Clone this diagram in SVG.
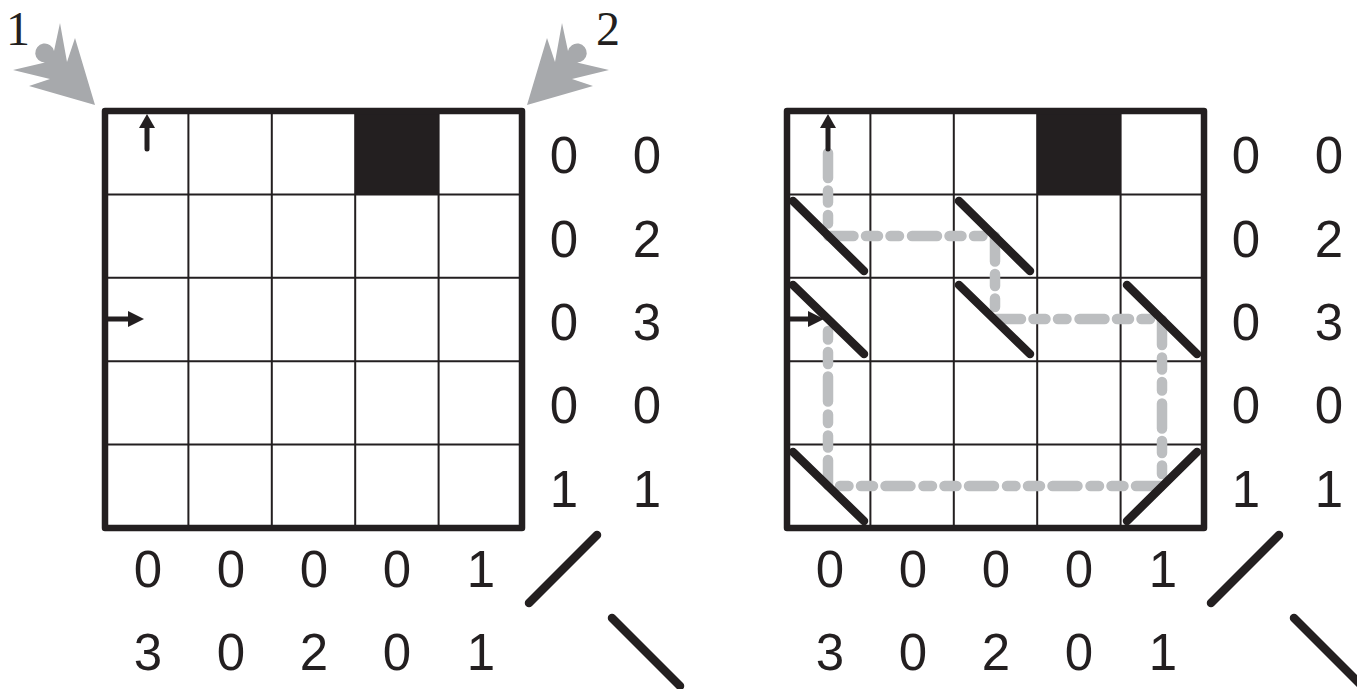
<svg xmlns="http://www.w3.org/2000/svg" xmlns:xlink="http://www.w3.org/1999/xlink" width="1357" height="689" viewBox="0 0 1357 689">
<style>
.thin{stroke:#231f20;stroke-width:2;fill:none}
.border{stroke:#231f20;stroke-width:6.5;fill:none;stroke-linejoin:round}
.blk{fill:#231f20}
.num{font-family:"Liberation Sans",Arial,sans-serif;font-size:51px;fill:#231f20;text-anchor:middle}
.lbl{font-family:"Liberation Serif","Times New Roman",serif;font-size:48px;fill:#231f20;text-anchor:middle}
.mirror{stroke:#231f20;stroke-width:8.5;stroke-linecap:round;fill:none}
.shaft{stroke:#231f20;stroke-width:5;stroke-linecap:round;fill:none}
.beam{stroke:#bcbec0;stroke-width:10.5;stroke-linecap:round;stroke-linejoin:round;fill:none;stroke-dasharray:25 12.5 12 12.5 8.5 13}
.burst{fill:#a7a9ac}
</style>
<defs>
<path id="burstShape" class="burst" d="M95,105 L29,86 L50,79 L13,70 L45,62.5 A9.5,9.5 0 1 1 54,51 L60,23 L67,62 L75,38 Z"/>
<g id="gridBase">
<path class="thin" d="M188.4,111V528M271.8,111V528M355.2,111V528M438.6,111V528M105,194.4H522M105,277.8H522M105,361.2H522M105,444.6H522"/>
<rect class="blk" x="355.2" y="111" width="83.4" height="83.4"/>
<rect class="border" x="105" y="111" width="417" height="417"/>
<text class="num" x="564" y="173">0</text><text class="num" x="647" y="173">0</text>
<text class="num" x="564" y="257">0</text><text class="num" x="647" y="257">2</text>
<text class="num" x="564" y="340">0</text><text class="num" x="647" y="340">3</text>
<text class="num" x="564" y="423">0</text><text class="num" x="647" y="423">0</text>
<text class="num" x="564" y="507">1</text><text class="num" x="647" y="507">1</text>
<text class="num" x="148" y="587">0</text><text class="num" x="231" y="587">0</text><text class="num" x="314" y="587">0</text><text class="num" x="397" y="587">0</text><text class="num" x="481" y="587">1</text>
<text class="num" x="148" y="670">3</text><text class="num" x="231" y="670">0</text><text class="num" x="314" y="670">2</text><text class="num" x="397" y="670">0</text><text class="num" x="481" y="670">1</text>
<line class="mirror" x1="529" y1="603" x2="597" y2="535"/>
<line class="mirror" x1="612" y1="618" x2="680" y2="686"/>
</g>
</defs>
<g id="left-grid">
<use xlink:href="#gridBase"/>
</g>
<g id="right-grid">
<use xlink:href="#gridBase" transform="translate(682,0)"/>
</g>
<g id="source-1">
<use xlink:href="#burstShape"/>
<text class="lbl" x="18" y="45">1</text>
</g>
<g id="source-2">
<use xlink:href="#burstShape" transform="translate(622,0) scale(-1,1)"/>
<text class="lbl" x="608" y="45">2</text>
</g>
<g id="beam">
<path class="beam" d="M828,153V236H995V319H1162V486H828V322"/>
</g>
<g id="mirrors">
<line class="mirror" x1="793" y1="201" x2="864" y2="271"/>
<line class="mirror" x1="793" y1="285" x2="864" y2="354"/>
<line class="mirror" x1="959" y1="201" x2="1030" y2="271"/>
<line class="mirror" x1="959" y1="285" x2="1030" y2="354"/>
<line class="mirror" x1="1127" y1="285" x2="1197" y2="354"/>
<line class="mirror" x1="793" y1="452" x2="864" y2="521"/>
<line class="mirror" x1="1127" y1="521" x2="1197" y2="452"/>
</g>
<g id="connectors">
<line class="shaft" x1="147" y1="149" x2="147" y2="126"/>
<polygon class="blk" points="147,114 155,128 139,128"/>
<line class="shaft" x1="108" y1="319" x2="130" y2="319"/>
<polygon class="blk" points="144,319 128,311 128,327"/>
<line class="shaft" x1="828" y1="149" x2="828" y2="126"/>
<polygon class="blk" points="828,114 836,128 820,128"/>
<line class="shaft" x1="790" y1="319" x2="810" y2="319"/>
<polygon class="blk" points="824,319 808,311 808,327"/>
</g>
</svg>
